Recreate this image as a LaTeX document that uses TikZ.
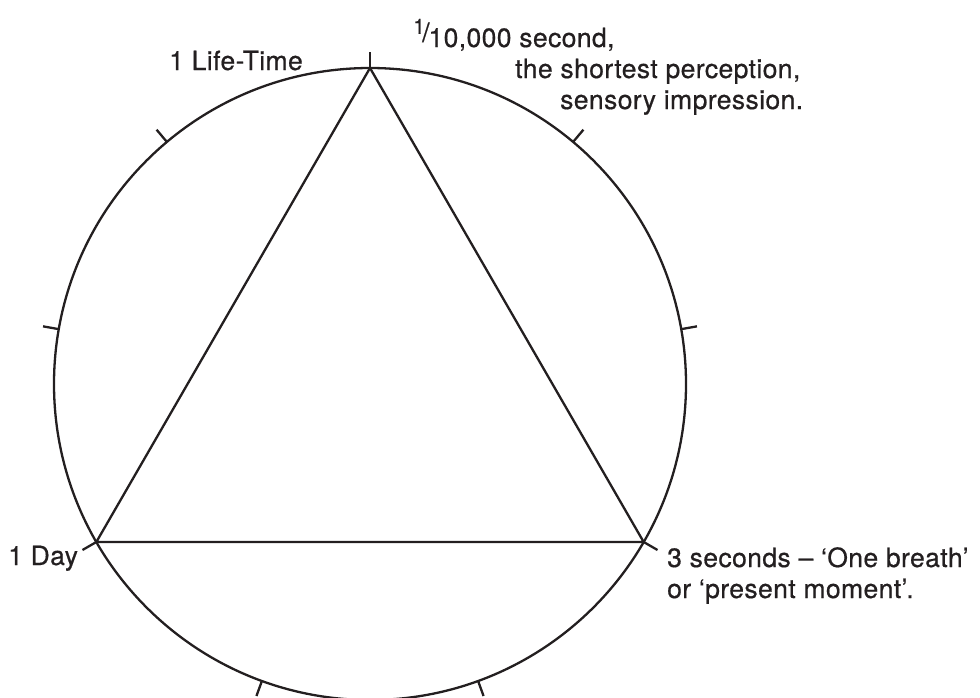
\documentclass[tikz,border=0pt]{standalone}
\usepackage{fontspec}
\setmainfont{TeX Gyre Heros}[FakeBold=0.6,LetterSpace=1.5]
\usetikzlibrary{calc}
\definecolor{ink}{HTML}{231F20}
\begin{document}
\begin{tikzpicture}[x=1pt,y=1pt,
  line/.style={draw=ink,line width=2.3pt},
  tickmark/.style={draw=ink,line width=2.3pt},
  lbl/.style={anchor=base west,inner sep=0pt,text=ink,font=\fontsize{26.5}{31}\selectfont}]
\useasboundingbox (0,0) rectangle (980,-697);
\clip (0,0) rectangle (980,-697);
\coordinate (O) at (370,-384);
\def\R{316}
\draw[line] (O) circle (\R);
\coordinate (T) at ($(O)+(90:\R)$);
\coordinate (L) at ($(O)+(210:\R)$);
\coordinate (Rv) at ($(O)+(330:\R)$);
\draw[line,line join=miter] (T) -- (L) -- (Rv) -- cycle;
\foreach \a in {10,50,90,130,170,210,250,290,330}{
  \coordinate (ti\a) at ($(O)+(\a:\R)$);
  \coordinate (to\a) at ($(O)+(\a:\R+16)$);
  \draw[tickmark] (ti\a) -- (to\a);
}
\node[lbl] (life) at (169,-70) {1 Life-Time};
\node[lbl] (frac) at (413,-47) {\raisebox{0.5em}{\fontsize{21}{21}\selectfont 1}\kern-0.1em\raisebox{0.2em}{/}\kern-0.04em10,000 second,};
\node[lbl] (short) at (515,-78) {the shortest perception,};
\node[lbl] (sens) at (560,-109) {sensory impression.};
\node[lbl] (day) at (8,-565) {1 Day};
\node[lbl] (three) at (667,-567) {3 seconds – ‘One breath’};
\node[lbl] (pres) at (667,-598) {or ‘present moment’.};
\end{tikzpicture}
\end{document}
